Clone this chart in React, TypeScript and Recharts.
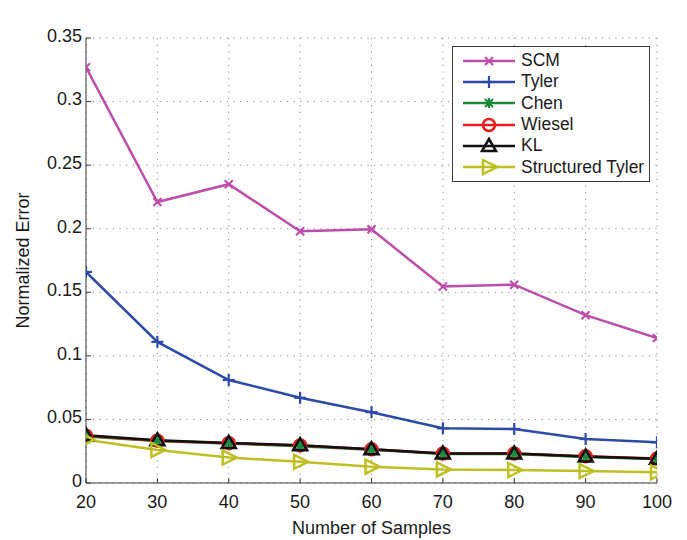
import React from 'react';
import { LineChart, Line, XAxis, YAxis, CartesianGrid, Label } from 'recharts';

const samples = [20, 30, 40, 50, 60, 70, 80, 90, 100];
const scm = [0.327, 0.221, 0.235, 0.198, 0.1995, 0.1545, 0.156, 0.132, 0.114];
const tyler = [0.166, 0.111, 0.081, 0.067, 0.0557, 0.043, 0.0425, 0.0346, 0.032];
const chen = [0.0365, 0.033, 0.031, 0.029, 0.0262, 0.0228, 0.0228, 0.0205, 0.0188];
const wiesel = [0.0372, 0.0333, 0.0313, 0.0295, 0.0265, 0.0232, 0.0232, 0.021, 0.0192];
const kl = [0.0375, 0.0336, 0.0315, 0.0297, 0.0266, 0.0232, 0.0232, 0.0208, 0.019];
const structuredTyler = [0.034, 0.026, 0.020, 0.0167, 0.0128, 0.0107, 0.0102, 0.0094, 0.0084];

const xTicks = [20, 30, 40, 50, 60, 70, 80, 90, 100];
const yTicks = [0, 0.05, 0.1, 0.15, 0.2, 0.25, 0.3, 0.35];

const data = samples.map((s, i) => ({
  n: s,
  scm: scm[i],
  tyler: tyler[i],
  chen: chen[i],
  wiesel: wiesel[i],
  kl: kl[i],
  st: structuredTyler[i],
}));

const FONT = '"Liberation Sans", Arial, Helvetica, sans-serif';
const TEXT = '#1a1a1a';
const FRAME = '#3a3a3a';
const FS = 18;

type MarkerKind = 'x' | 'plus' | 'star' | 'circle' | 'triUp' | 'triRight';

function markerShape(kind: MarkerKind, cx: number, cy: number, color: string, key?: any) {
  const sw = 2.2;
  switch (kind) {
    case 'x':
      return (
        <g key={key} stroke={color} strokeWidth={sw}>
          <line x1={cx - 4} y1={cy - 4} x2={cx + 4} y2={cy + 4} />
          <line x1={cx - 4} y1={cy + 4} x2={cx + 4} y2={cy - 4} />
        </g>
      );
    case 'plus':
      return (
        <g key={key} stroke={color} strokeWidth={sw}>
          <line x1={cx - 6} y1={cy} x2={cx + 6} y2={cy} />
          <line x1={cx} y1={cy - 6} x2={cx} y2={cy + 6} />
        </g>
      );
    case 'star':
      return (
        <g key={key} stroke={color} strokeWidth={sw}>
          <line x1={cx - 5} y1={cy} x2={cx + 5} y2={cy} />
          <line x1={cx} y1={cy - 5} x2={cx} y2={cy + 5} />
          <line x1={cx - 4} y1={cy - 4} x2={cx + 4} y2={cy + 4} />
          <line x1={cx - 4} y1={cy + 4} x2={cx + 4} y2={cy - 4} />
        </g>
      );
    case 'circle':
      return <circle key={key} cx={cx} cy={cy} r={6} stroke={color} strokeWidth={2.5} fill="none" />;
    case 'triUp':
      return (
        <polygon
          key={key}
          points={`${cx},${cy - 7} ${cx - 7},${cy + 5} ${cx + 7},${cy + 5}`}
          stroke={color}
          strokeWidth={2.5}
          fill="none"
        />
      );
    case 'triRight':
      return (
        <polygon
          key={key}
          points={`${cx - 6},${cy - 7} ${cx + 8},${cy} ${cx - 6},${cy + 7}`}
          stroke={color}
          strokeWidth={2.5}
          fill="none"
        />
      );
  }
  return null;
}

const series: { key: string; name: string; color: string; marker: MarkerKind }[] = [
  { key: 'scm', name: 'SCM', color: '#bd4dab', marker: 'x' },
  { key: 'tyler', name: 'Tyler', color: '#2d4aa8', marker: 'plus' },
  { key: 'chen', name: 'Chen', color: '#1d8a3c', marker: 'star' },
  { key: 'wiesel', name: 'Wiesel', color: '#e41d1d', marker: 'circle' },
  { key: 'kl', name: 'KL', color: '#111111', marker: 'triUp' },
  { key: 'st', name: 'Structured Tyler', color: '#bfbf22', marker: 'triRight' },
];

function LegendBox() {
  return (
    <div
      style={{
        position: 'absolute',
        left: 452,
        top: 46,
        width: 198,
        border: `1.5px solid ${FRAME}`,
        background: '#fff',
        padding: '3px 4px 3px 10px',
        fontFamily: FONT,
        fontSize: 17.5,
        color: TEXT,
        boxSizing: 'border-box',
      }}
    >
      {series.map((s) => (
        <div key={s.key} style={{ display: 'flex', alignItems: 'center', height: 21.3 }}>
          <svg width={52} height={20} style={{ flex: 'none' }}>
            <line x1={0} y1={10} x2={52} y2={10} stroke={s.color} strokeWidth={2.5} />
            {markerShape(s.marker, 26, 10, s.color)}
          </svg>
          <span style={{ marginLeft: 6, whiteSpace: 'nowrap' }}>{s.name}</span>
        </div>
      ))}
    </div>
  );
}

export default function App() {
  return (
    <div style={{ position: 'absolute', left: 0, top: 0, width: 687, height: 540, background: '#fff' }}>
      <LineChart
        width={687}
        height={540}
        data={data}
        margin={{ top: 38, right: 30, bottom: 27, left: 26 }}
        style={{ fontFamily: FONT }}
      >
        <CartesianGrid
          stroke="#8a8a8a"
          strokeDasharray="1.2 5.5"
          horizontalValues={yTicks}
          verticalValues={xTicks}
        />
        <XAxis
          dataKey="n"
          type="number"
          domain={[20, 100]}
          ticks={xTicks}
          height={30}
          tickSize={-5}
          tickMargin={17.5}
          stroke={FRAME}
          tick={{ fill: TEXT, fontSize: FS, fontFamily: FONT }}
          interval={0}
          allowDataOverflow
        >
          <Label
            value="Number of Samples"
            position="bottom"
            offset={8}
            style={{ fill: TEXT, fontSize: FS, fontFamily: FONT }}
          />
        </XAxis>
        <XAxis
          xAxisId="top"
          orientation="top"
          dataKey="n"
          type="number"
          domain={[20, 100]}
          ticks={xTicks}
          height={0}
          tickSize={-5}
          tick={false}
          stroke={FRAME}
          allowDataOverflow
        >
          <Label
            value="Shrink to Target Matrix"
            position="top"
            offset={12}
            style={{ fill: TEXT, fontSize: FS, fontFamily: FONT }}
          />
        </XAxis>
        <YAxis
          type="number"
          domain={[0, 0.35]}
          ticks={yTicks}
          width={60}
          tickSize={-5}
          tickMargin={9}
          stroke={FRAME}
          interval={0}
          tickFormatter={(v: number) => String(v)}
          tick={{ fill: TEXT, fontSize: FS, fontFamily: FONT, dy: -2.5 }}
          allowDataOverflow
        >
          <Label
            value="Normalized Error"
            angle={-90}
            position="insideLeft"
            offset={-3}
            style={{ fill: TEXT, fontSize: FS, fontFamily: FONT, textAnchor: 'middle' }}
          />
        </YAxis>
        <YAxis
          yAxisId="right"
          orientation="right"
          type="number"
          domain={[0, 0.35]}
          ticks={yTicks}
          width={0}
          tickSize={-5}
          tick={false}
          stroke={FRAME}
          allowDataOverflow
        />
        {series.map((s) => (
          <Line
            key={s.key}
            type="linear"
            dataKey={s.key}
            name={s.name}
            stroke={s.color}
            strokeWidth={2.5}
            isAnimationActive={false}
            dot={(p: any) => markerShape(s.marker, p.cx, p.cy, s.color, `${s.key}-${p.index}`)}
            activeDot={false}
          />
        ))}
      </LineChart>
      <LegendBox />
    </div>
  );
}
